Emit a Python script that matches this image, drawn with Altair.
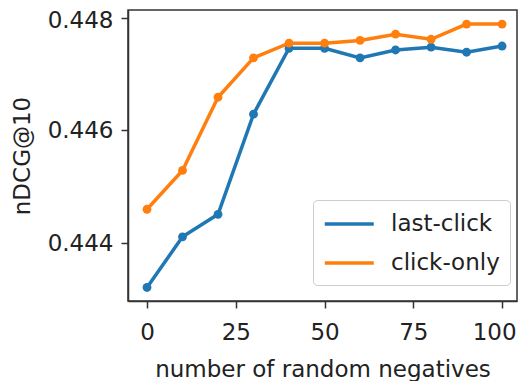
import altair as alt
import pandas as pd

negatives = [0, 10, 20, 30, 40, 50, 60, 70, 80, 90, 100]
last_click = [0.44321, 0.44411, 0.44451, 0.44629, 0.44746, 0.44746, 0.44729, 0.44743, 0.44748, 0.44739, 0.44750]
click_only = [0.44460, 0.44529, 0.44659, 0.44729, 0.44755, 0.44755, 0.44760, 0.44771, 0.44762, 0.44789, 0.44789]
series_names = ["last-click", "click-only"]
series_colors = ["#1f77b4", "#ff7f0e"]
x_ticks = [0, 25, 50, 75, 100]
y_ticks = [0.444, 0.446, 0.448]

rows = []
for name, vals in zip(series_names, [last_click, click_only]):
    for xv, yv in zip(negatives, vals):
        rows.append({"x": xv, "y": yv, "series": name})
df = pd.DataFrame(rows)

FONT = "DejaVu Sans"
FS = 23

x_enc = alt.X("x:Q", scale=alt.Scale(domain=[-5.35, 104.2], nice=False, zero=False),
              axis=alt.Axis(values=x_ticks, title="number of random negatives", grid=False,
                            tickSize=7, labelPadding=13, titlePadding=14, format="d",
                            labelOffset={"expr": "datum.value == 100 ? -8 : 0"}))
y_enc = alt.Y("y:Q", scale=alt.Scale(domain=[0.44297, 0.44814], nice=False, zero=False),
              axis=alt.Axis(values=y_ticks, title="nDCG@10", grid=False, format=".3f",
                            tickSize=7, labelPadding=8, titlePadding=13,
                            labelOffset={"expr": "datum.value > 0.4475 ? 3 : 0"}))
color_enc = alt.Color("series:N",
                      scale=alt.Scale(domain=series_names, range=series_colors),
                      legend=alt.Legend(title=None, orient="none", legendX=185, legendY=190,
                                        symbolType="M-1,0H3", symbolSize=600, symbolStrokeWidth=3.5,
                                        labelOffset=40, padding=10, rowPadding=13,
                                        fillColor="rgba(255,255,255,0.8)", strokeColor="#cccccc",
                                        cornerRadius=4, labelFont=FONT, labelFontSize=FS,
                                        labelColor="#222222"))

base = alt.Chart(df).encode(x=x_enc, y=y_enc, color=color_enc)
lines = base.mark_line(strokeWidth=3.5)
points = base.mark_point(filled=True, size=78, opacity=1)

chart = alt.layer(lines, points).properties(
    width=389, height=291,
    autosize=alt.AutoSizeParams(type="none"),
    padding={"left": 120, "top": 2, "right": 1, "bottom": 80},
).configure_view(stroke="#333333", strokeWidth=1.5).configure_axis(
    domainColor="#333333", domainWidth=1.5, tickColor="#333333", tickWidth=1.5,
    labelFont=FONT, labelFontSize=FS, labelColor="#222222",
    titleFont=FONT, titleFontSize=FS, titleColor="#222222", titleFontWeight="normal",
)

chart.save("out.html", embed_options={"renderer": "svg", "actions": False})
